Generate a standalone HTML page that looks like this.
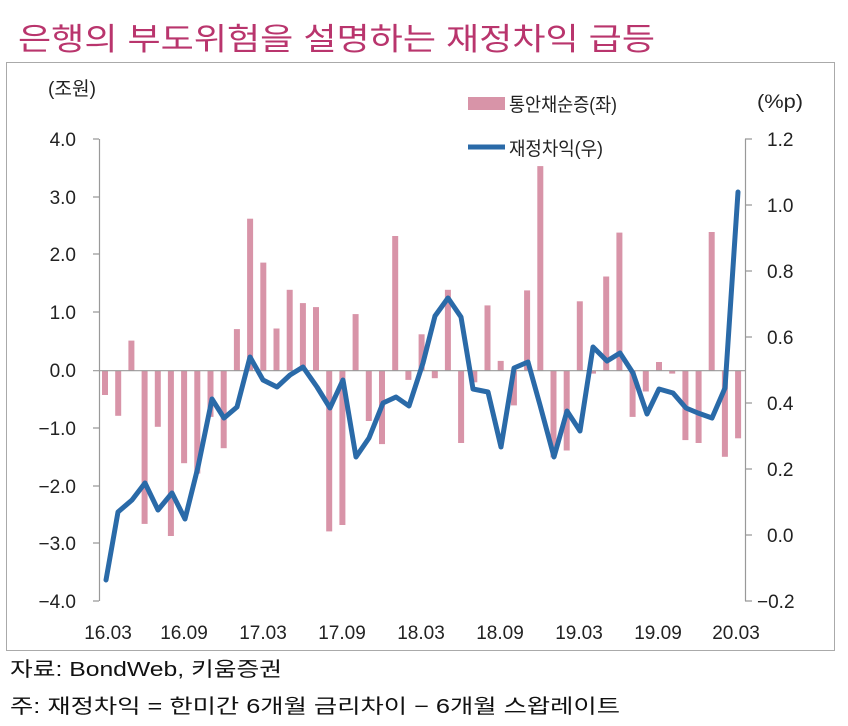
<!DOCTYPE html>
<html><head><meta charset="utf-8"><style>
html,body{margin:0;padding:0;background:#fff;}
svg{display:block;font-family:"Liberation Sans","Noto Sans CJK KR",sans-serif;}
</style></head><body>
<svg width="848" height="726" viewBox="0 0 848 726" xmlns="http://www.w3.org/2000/svg">
<text x="18" y="50" font-size="31" fill="#b9356d" textLength="637" lengthAdjust="spacingAndGlyphs">은행의 부도위험을 설명하는 재정차익 급등</text>
<rect x="6.5" y="62.5" width="828" height="588" fill="none" stroke="#aaa" stroke-width="1"/>
<g font-size="19" fill="#222">
<text x="48" y="95" textLength="48" lengthAdjust="spacingAndGlyphs">(조원)</text>
<text x="757" y="108" textLength="46" lengthAdjust="spacingAndGlyphs">(%p)</text>
<rect x="468" y="97" width="37" height="13" fill="#d894a8"/>
<text x="509" y="111" textLength="108" lengthAdjust="spacingAndGlyphs">통안채순증(좌)</text>
<line x1="468" y1="147" x2="505" y2="147" stroke="#2a6aa8" stroke-width="5"/>
<text x="509" y="155" textLength="94" lengthAdjust="spacingAndGlyphs">재정차익(우)</text>
</g>
<g fill="#d894a8">
<rect x="102.0" y="370.7" width="6" height="24.3"/>
<rect x="115.2" y="370.7" width="6" height="45.1"/>
<rect x="128.4" y="340.6" width="6" height="30.1"/>
<rect x="141.6" y="370.7" width="6" height="153.2"/>
<rect x="154.8" y="370.7" width="6" height="56.1"/>
<rect x="167.9" y="370.7" width="6" height="165.3"/>
<rect x="181.1" y="370.7" width="6" height="92.5"/>
<rect x="194.3" y="370.7" width="6" height="102.9"/>
<rect x="207.5" y="370.7" width="6" height="46.2"/>
<rect x="220.7" y="370.7" width="6" height="77.5"/>
<rect x="233.9" y="329.1" width="6" height="41.6"/>
<rect x="247.1" y="218.7" width="6" height="152.0"/>
<rect x="260.3" y="262.6" width="6" height="108.1"/>
<rect x="273.5" y="328.5" width="6" height="42.2"/>
<rect x="286.7" y="289.8" width="6" height="80.9"/>
<rect x="299.9" y="303.1" width="6" height="67.6"/>
<rect x="313.0" y="307.1" width="6" height="63.6"/>
<rect x="326.2" y="370.7" width="6" height="160.7"/>
<rect x="339.4" y="370.7" width="6" height="154.3"/>
<rect x="352.6" y="314.1" width="6" height="56.6"/>
<rect x="365.8" y="370.7" width="6" height="50.3"/>
<rect x="379.0" y="370.7" width="6" height="73.4"/>
<rect x="392.2" y="236.0" width="6" height="134.7"/>
<rect x="405.4" y="370.7" width="6" height="9.2"/>
<rect x="418.6" y="334.3" width="6" height="36.4"/>
<rect x="431.8" y="370.7" width="6" height="7.5"/>
<rect x="444.9" y="289.8" width="6" height="80.9"/>
<rect x="458.1" y="370.7" width="6" height="72.3"/>
<rect x="471.3" y="370.7" width="6" height="11.6"/>
<rect x="484.5" y="305.4" width="6" height="65.3"/>
<rect x="497.7" y="360.9" width="6" height="9.8"/>
<rect x="510.9" y="370.7" width="6" height="34.7"/>
<rect x="524.1" y="290.4" width="6" height="80.3"/>
<rect x="537.3" y="166.1" width="6" height="204.6"/>
<rect x="550.5" y="370.7" width="6" height="86.7"/>
<rect x="563.7" y="370.7" width="6" height="79.8"/>
<rect x="576.8" y="301.3" width="6" height="69.4"/>
<rect x="590.0" y="370.7" width="6" height="2.9"/>
<rect x="603.2" y="276.5" width="6" height="94.2"/>
<rect x="616.4" y="232.6" width="6" height="138.1"/>
<rect x="629.6" y="370.7" width="6" height="46.2"/>
<rect x="642.8" y="370.7" width="6" height="20.8"/>
<rect x="656.0" y="362.0" width="6" height="8.7"/>
<rect x="669.2" y="370.7" width="6" height="2.9"/>
<rect x="682.4" y="370.7" width="6" height="69.4"/>
<rect x="695.6" y="370.7" width="6" height="72.3"/>
<rect x="708.7" y="232.0" width="6" height="138.7"/>
<rect x="721.9" y="370.7" width="6" height="86.1"/>
<rect x="735.1" y="370.7" width="6" height="67.6"/>
</g>
<g stroke="#999" stroke-width="1.2" fill="none">
<line x1="99.5" y1="139" x2="99.5" y2="601"/>
<line x1="745.5" y1="139" x2="745.5" y2="601"/>
<line x1="99" y1="370.7" x2="745" y2="370.7"/>
<path d="M93 139H99M93 197H99M93 254H99M93 312H99M93 370.7H99M93 428H99M93 486H99M93 543H99M93 601H99"/>
<path d="M745 139H752M745 205H752M745 271H752M745 337H752M745 403H752M745 469H752M745 535H752M745 601H752"/>
</g>
<g font-size="19" fill="#222" text-anchor="end">
<text x="76" y="146">4.0</text><text x="76" y="204">3.0</text><text x="76" y="261">2.0</text><text x="76" y="319">1.0</text><text x="76" y="377">0.0</text><text x="76" y="435">−1.0</text><text x="76" y="493">−2.0</text><text x="76" y="550">−3.0</text><text x="76" y="608">−4.0</text>
</g>
<g font-size="19" fill="#222">
<text x="767" y="146">1.2</text><text x="767" y="212">1.0</text><text x="767" y="278">0.8</text><text x="767" y="344">0.6</text><text x="767" y="410">0.4</text><text x="767" y="476">0.2</text><text x="767" y="542">0.0</text><text x="757" y="608">−0.2</text>
</g>
<g font-size="19" fill="#222" text-anchor="middle">
<text x="108" y="639">16.03</text><text x="184" y="639">16.09</text><text x="263" y="639">17.03</text><text x="342" y="639">17.09</text><text x="421" y="639">18.03</text><text x="500" y="639">18.09</text><text x="579" y="639">19.03</text><text x="658" y="639">19.09</text><text x="736" y="639">20.03</text>
</g>
<polyline fill="none" stroke="#2a6aa8" stroke-width="5" stroke-linejoin="round" stroke-linecap="round" points="106,580 118,512 132,500 145,483 158,510 172,493 185,519 198,467 212,399 224,418 237,407 250,357 263,380 277,387 290,375 303,367 317,387 330,408 343,380 356,457 369,438 383,403 396,397 409,406 423,363 435,316 448,298 461,317 473,389 488,392 501,447 514,368 528,362 540,405 554,457 567,411 580,431 593,347 607,361 620,353 633,373 647,414 659,389 673,393 686,408 698,413 712,418 725,388 738,192"/>
<g font-size="20" fill="#111">
<text x="10" y="676" textLength="272" lengthAdjust="spacingAndGlyphs">자료: BondWeb, 키움증권</text>
<text x="10" y="713" textLength="610" lengthAdjust="spacingAndGlyphs">주: 재정차익 = 한미간 6개월 금리차이 − 6개월 스왑레이트</text>
</g>
</svg>
</body></html>
